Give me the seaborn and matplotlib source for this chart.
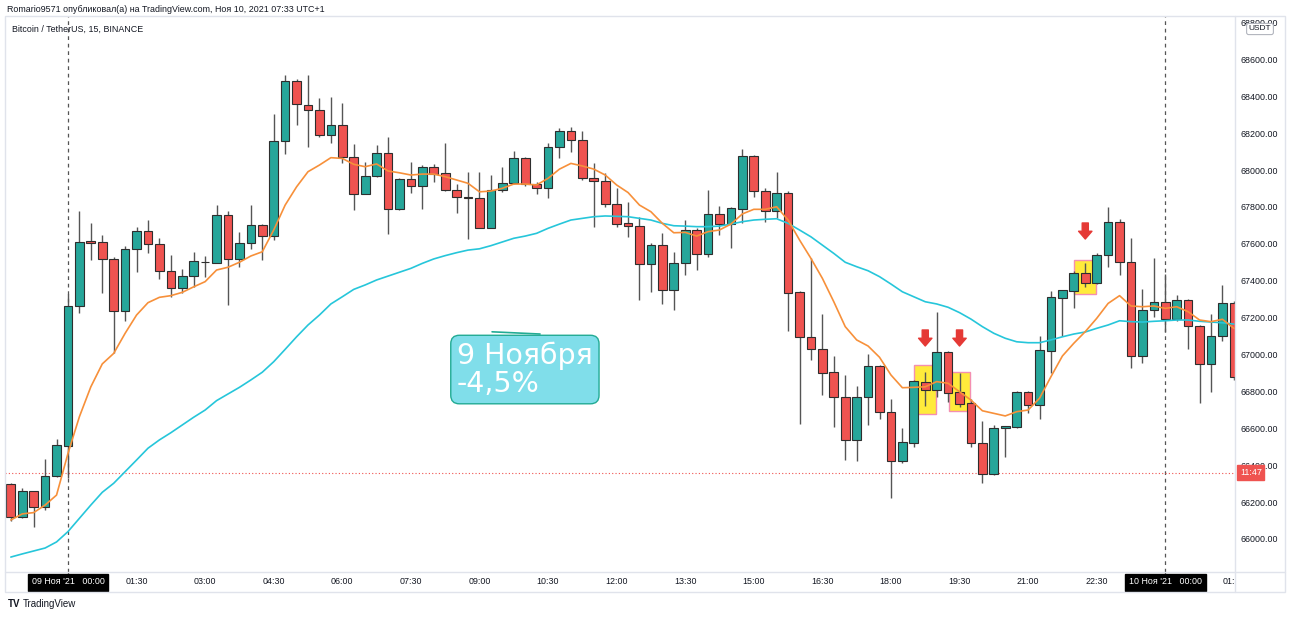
import numpy as np
import matplotlib
matplotlib.use("Agg")
import matplotlib.pyplot as plt
from matplotlib.patches import Rectangle
from matplotlib.lines import Line2D
import seaborn as sns

# 15-минутные свечи BTC/USDT, 08.11 22:45 -> 10.11 01:30
opens = [66296, 66118, 66259, 66175, 66341, 66506, 67263, 67612, 67608, 67518,
         67237, 67572, 67671, 67599, 67451, 67359, 67424, 67500, 67498, 67754,
         67519, 67606, 67702, 67642, 68156, 68482, 68351, 68325, 68190, 68244,
         68069, 67870, 67967, 68090, 67790, 67951, 67912, 68015, 67982, 67892,
         67854, 67847, 67687, 67892, 67931, 68063, 67922, 67901, 68126, 68211,
         68163, 67958, 67942, 67816, 67711, 67693, 67489, 67592, 67348, 67496,
         67675, 67546, 67758, 67711, 67792, 68076, 67888, 67779, 67874, 67339,
         67096, 67031, 66903, 66768, 66540, 66768, 66939, 66687, 66423, 66524,
         66849, 66808, 67012, 66795, 66735, 66519, 66351, 66603, 66609, 66795,
         66726, 67021, 67310, 67344, 67443, 67386, 67539, 67717, 67503, 66994,
         67241, 67286, 67191, 67295, 67156, 66947, 67102, 67277]
highs = [66305, 66275, 66262, 66434, 66544, 67326, 67779, 67711, 67648, 67530,
         67588, 67693, 67729, 67633, 67539, 67462, 67554, 67534, 67809, 67778,
         67662, 67812, 67707, 68304, 68515, 68493, 68515, 68390, 68396, 68362,
         68141, 68045, 68135, 68177, 67955, 68042, 68025, 68031, 68145, 67922,
         67988, 67988, 67973, 68015, 68103, 68072, 67937, 68145, 68226, 68231,
         68213, 68036, 67985, 67901, 67829, 67744, 67603, 67660, 67557, 67729,
         67687, 67892, 67805, 67800, 68112, 68080, 67901, 67991, 67886, 67345,
         67525, 67220, 66992, 66889, 66831, 67001, 66945, 66759, 66600, 66860,
         66907, 67232, 67021, 66898, 66760, 66640, 66618, 66615, 66804, 66804,
         67100, 67346, 67350, 67450, 67494, 67548, 67798, 67733, 67630, 67353,
         67521, 67436, 67322, 67300, 67160, 67218, 67377, 67290]
lows = [66098, 66112, 66063, 66157, 66338, 66329, 67223, 67512, 67335, 67006,
        67183, 67445, 67548, 67409, 67310, 67332, 67367, 67422, 67495, 67268,
        67476, 67570, 67512, 67621, 68085, 68244, 68123, 68177, 68148, 68036,
        67783, 67870, 67962, 67651, 67783, 67877, 67790, 67937, 67888, 67765,
        67624, 67687, 67687, 67882, 67926, 67913, 67870, 67847, 68063, 68099,
        67946, 67693, 67801, 67693, 67638, 67295, 67340, 67272, 67241, 67431,
        67458, 67530, 67648, 67579, 67711, 67852, 67720, 67738, 67129, 66622,
        66970, 66780, 66609, 66428, 66424, 66618, 66650, 66224, 66410, 66500,
        66721, 66771, 66744, 66714, 66500, 66305, 66345, 66446, 66603, 66681,
        66649, 66898, 67100, 67250, 67364, 67380, 67476, 67431, 66925, 66956,
        67205, 67124, 67180, 67030, 66735, 66798, 67075, 66860]
closes = [66118, 66259, 66175, 66341, 66506, 67263, 67610, 67604, 67519, 67237,
          67572, 67671, 67599, 67451, 67359, 67424, 67505, 67500, 67754, 67519,
          67606, 67702, 67642, 68156, 68482, 68358, 68325, 68190, 68244, 68072,
          67870, 67967, 68090, 67790, 67951, 67912, 68015, 67982, 67892, 67854,
          67848, 67687, 67892, 67931, 68063, 67928, 67901, 68126, 68211, 68163,
          67958, 67942, 67816, 67711, 67696, 67489, 67592, 67348, 67496, 67675,
          67546, 67758, 67711, 67792, 68076, 67888, 67779, 67874, 67332, 67096,
          67031, 66903, 66768, 66540, 66768, 66939, 66690, 66423, 66524, 66853,
          66808, 67012, 66795, 66735, 66519, 66351, 66603, 66609, 66795, 66726,
          67021, 67310, 67346, 67443, 67386, 67539, 67717, 67503, 66994, 67241,
          67286, 67191, 67295, 67156, 66947, 67102, 67277, 66880]

# скользящие средние (оранжевая - короткая, голубая - длинная)
ma_fast = [66103, 66136, 66143, 66184, 66238, 66464, 66663, 66825, 66949, 67006,
           67115, 67214, 67281, 67310, 67319, 67337, 67367, 67395, 67458, 67473,
           67500, 67534, 67557, 67675, 67810, 67909, 67991, 68027, 68067, 68063,
           68031, 68018, 68033, 67995, 67985, 67973, 67978, 67978, 67964, 67946,
           67928, 67882, 67886, 67901, 67924, 67924, 67919, 67955, 68005, 68036,
           68022, 68005, 67973, 67919, 67878, 67810, 67774, 67711, 67660, 67662,
           67642, 67666, 67675, 67707, 67762, 67787, 67787, 67801, 67729, 67621,
           67521, 67413, 67286, 67151, 67079, 67046, 66985, 66889, 66820, 66822,
           66825, 66853, 66844, 66798, 66753, 66695, 66681, 66667, 66690, 66699,
           66763, 66880, 66992, 67061, 67124, 67196, 67277, 67319, 67263, 67259,
           67263, 67250, 67259, 67232, 67187, 67178, 67191, 67142]
ma_slow = [65902, 65919, 65935, 65951, 65984, 66040, 66112, 66184, 66253, 66302,
           66365, 66428, 66492, 66537, 66576, 66618, 66660, 66699, 66750, 66786,
           66822, 66862, 66904, 66961, 67028, 67096, 67160, 67214, 67274, 67313,
           67353, 67377, 67404, 67425, 67446, 67467, 67494, 67518, 67536, 67552,
           67566, 67573, 67590, 67610, 67630, 67642, 67657, 67684, 67707, 67729,
           67738, 67747, 67751, 67749, 67747, 67738, 67729, 67711, 67698, 67696,
           67693, 67693, 67696, 67707, 67720, 67729, 67733, 67736, 67711, 67675,
           67638, 67593, 67548, 67500, 67476, 67454, 67422, 67382, 67340, 67313,
           67286, 67274, 67256, 67227, 67192, 67151, 67115, 67088, 67069, 67064,
           67064, 67079, 67096, 67111, 67122, 67142, 67160, 67183, 67178, 67176,
           67180, 67183, 67187, 67187, 67180, 67176, 67172, 67165]

time_labels = ["09 Ноя '21   00:00", "01:30", "03:00", "04:30", "06:00", "07:30",
               "09:00", "10:30", "12:00", "13:30", "15:00", "16:30", "18:00",
               "19:30", "21:00", "22:30", "10 Ноя '21   00:00", "01:30"]
price_ticks = list(range(66000, 68801, 200))
last_price = 66360
highlight_bars = [80, 83, 94]
highlight_lo = [66678, 66694, 67326]
highlight_hi = [66943, 66907, 67512]

sns.set_style("white")
plt.rcParams['font.family'] = ['Liberation Sans', 'DejaVu Sans']

W, H = 1290, 617
fig = plt.figure(figsize=(W / 100, H / 100), dpi=100)
fx = lambda x: x / W
fy = lambda y: 1 - y / H

ax = fig.add_axes([fx(5), fy(572), fx(1230), 556 / H])
tax = fig.add_axes([fx(5), fy(592), fx(1230), 20 / H], sharex=ax)

GREEN, RED = "#26a69a", "#ef5350"
idx = np.arange(len(opens))
o = np.array(opens); c = np.array(closes)
cols = [GREEN if cc >= oo else RED for oo, cc in zip(o, c)]

# подсветка
for b, lo, hi in zip(highlight_bars, highlight_lo, highlight_hi):
    ax.add_patch(Rectangle((b - 0.95, lo), 1.9, hi - lo, facecolor="#ffeb3b",
                           edgecolor="#f48fb1", lw=1, zorder=1))

ax.vlines(idx, lows, highs, color="#555555", lw=1, zorder=2)
ax.bar(idx, np.abs(c - o) + 2, bottom=np.minimum(o, c) - 1, width=0.76,
       color=cols, edgecolor="#2e2e2e", linewidth=0.8, zorder=3)

sns.lineplot(x=idx, y=ma_slow, ax=ax, color="#26c6da", lw=1.2, zorder=4)
sns.lineplot(x=idx, y=ma_fast, ax=ax, color="#f7903a", lw=1.2, zorder=5)

# стрелки
for b, top in zip(highlight_bars, [67133, 67133, 67713]):
    ax.annotate("", xy=(b, top - 87), xytext=(b, top),
                arrowprops=dict(arrowstyle="simple,head_length=0.7,head_width=1.2,tail_width=0.55",
                                color="#e53935", mutation_scale=8, shrinkA=0, shrinkB=0),
                zorder=6)

# разделители дней
for d in [5, 101]:
    ax.axvline(d, color="#555555", ls=(0, (3, 3)), lw=0.9, zorder=1)
    tax.axvline(d, color="#555555", lw=0.9, ymax=1.0)

ax.axhline(last_price, color=RED, ls=(0, (1, 2)), lw=0.8, zorder=1)

ax.set_xlim(-0.51, 107.1)
ax.set_ylim(65821, 68835)
ax.yaxis.tick_right()
ax.set_yticks(price_ticks)
ax.set_yticklabels([f"{v:.2f}" for v in price_ticks])
ax.tick_params(axis="y", length=0, pad=4, labelsize=6.4, labelcolor="#131722")
ax.tick_params(axis="x", bottom=False, labelbottom=False)
for s in ax.spines.values():
    s.set_visible(False)

ax.text(1.004, last_price, "11:47", transform=ax.get_yaxis_transform(), ha="left",
        va="center", fontsize=6.4, color="white", clip_on=False, zorder=10,
        bbox=dict(boxstyle="square,pad=0.3", fc=RED, ec=RED))

# аннотация
ax.text(0.3675, 0.4145, "9 Ноября\n-4,5%", transform=ax.transAxes, ha="left", va="top",
        fontsize=20.5, color="white", linespacing=0.98, family="DejaVu Sans", zorder=7,
        bbox=dict(boxstyle="round,pad=0.22,rounding_size=0.3", fc="#80deea", ec="#22ab94", lw=1))
ax.plot([0.396, 0.435], [0.432, 0.428], transform=ax.transAxes, color="#22ab94", lw=1.2)

# шкала времени
tax.set_ylim(0, 1)
tax.axis("off")
for i, lab in enumerate(time_labels):
    k = 5 + 6 * i
    if "Ноя" in lab:
        tax.text(k, 0.5, lab, ha="center", va="center", fontsize=6.4, color="white",
                 clip_on=True, bbox=dict(boxstyle="square,pad=0.45", fc="black", ec="black"))
    else:
        tax.text(k, 0.5, lab, ha="center", va="center", fontsize=6.4, color="#131722",
                 clip_on=True)

# рамки
fr = "#e0e3eb"
fig.add_artist(Rectangle((fx(5), fy(592)), fx(1280), 576 / H, transform=fig.transFigure,
                         fill=False, ec=fr, lw=1))
fig.add_artist(Line2D([fx(1235), fx(1235)], [fy(16), fy(592)], color=fr, lw=1))
fig.add_artist(Line2D([fx(5), fx(1285)], [fy(572), fy(572)], color=fr, lw=1))

fig.text(fx(7), fy(10), "Romario9571 опубликовал(а) на TradingView.com, Ноя 10, 2021 07:33 UTC+1",
         fontsize=6.4, color="#131722", va="center")
fig.text(fx(12), fy(29), "Bitcoin / TetherUS, 15, BINANCE", fontsize=6.4,
         color="#131722", va="center")
fig.text(fx(1260), fy(29), "USDT", fontsize=6, color="#131722", ha="center", va="center",
         bbox=dict(boxstyle="round,pad=0.25", fc="white", ec="#b2b5be", lw=0.8))
fig.text(fx(8), fy(604), "TV", fontsize=7, fontweight="bold", color="#131722", va="center")
fig.text(fx(23), fy(604), "TradingView", fontsize=7, color="#131722", va="center")

fig.savefig("out.png", dpi=100, facecolor="white")
